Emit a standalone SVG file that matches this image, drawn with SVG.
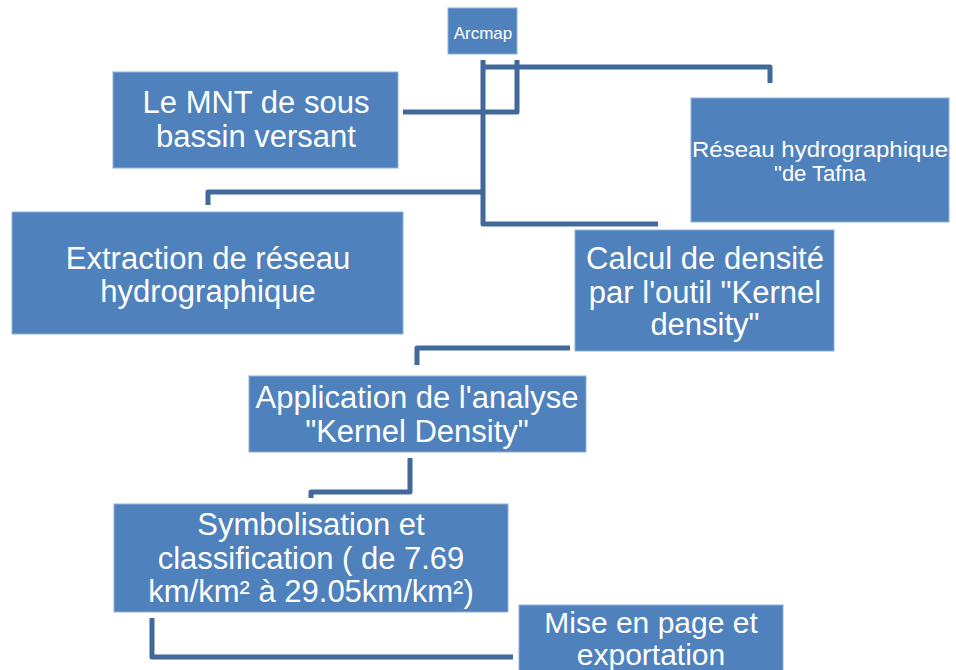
<svg xmlns="http://www.w3.org/2000/svg" width="956" height="670" viewBox="0 0 956 670">
<style>
.box{fill:#4f81bd;stroke:#8fb0dc;stroke-width:1}
.t{font-family:"Liberation Sans",Arial,sans-serif;fill:#ffffff;text-anchor:middle}
.big{font-size:31px}
.con{fill:none;stroke:#41699c;stroke-width:5;stroke-linejoin:round}
</style>
<rect width="956" height="670" fill="#ffffff"/>
<g id="connectors">
<path class="con" d="M483,60 V224 H658"/>
<path class="con" d="M483,67 H770 V83"/>
<path class="con" d="M403,112 H517 V60"/>
<path class="con" d="M208,205 V192 H483"/>
<path class="con" d="M570,348 H417 V365"/>
<path class="con" d="M410,458 V492 H311 V498"/>
<path class="con" d="M152,618 V657 H513"/>
</g>
<g id="arcmap">
<rect class="box" x="448" y="8" width="69" height="46"/>
<text class="t" x="483" y="39" font-size="17">Arcmap</text>
</g>
<g id="mnt">
<rect class="box" x="113" y="72" width="285" height="96"/>
<text class="t big" x="256" y="113">Le MNT de sous</text>
<text class="t big" x="256" y="147">bassin versant</text>
</g>
<g id="reseau">
<rect class="box" x="691" y="98" width="258" height="124"/>
<text class="t" x="820" y="157" font-size="22" textLength="256" lengthAdjust="spacingAndGlyphs">Réseau hydrographique</text>
<text class="t" x="820" y="181" font-size="22">"de Tafna</text>
</g>
<g id="extraction">
<rect class="box" x="12" y="212" width="391" height="122"/>
<text class="t big" x="208" y="269">Extraction de réseau</text>
<text class="t big" x="208" y="302">hydrographique</text>
</g>
<g id="calcul">
<rect class="box" x="575" y="230" width="259" height="121"/>
<text class="t big" x="705" y="269">Calcul de densité</text>
<text class="t big" x="705" y="303">par l'outil "Kernel</text>
<text class="t big" x="705" y="335">density"</text>
</g>
<g id="application">
<rect class="box" x="249" y="376" width="337" height="76"/>
<text class="t big" x="417" y="408">Application de l'analyse</text>
<text class="t big" x="417" y="442">"Kernel Density"</text>
</g>
<g id="symbolisation">
<rect class="box" x="114" y="504" width="394" height="108"/>
<text class="t big" x="311" y="535">Symbolisation et</text>
<text class="t big" x="311" y="569">classification ( de 7.69</text>
<text class="t big" x="311" y="602">km/km² à 29.05km/km²)</text>
</g>
<g id="mise">
<rect class="box" x="519" y="605" width="264" height="70"/>
<text class="t" x="651" y="633" font-size="30">Mise en page et</text>
<text class="t" x="651" y="665" font-size="30">exportation</text>
</g>
</svg>
